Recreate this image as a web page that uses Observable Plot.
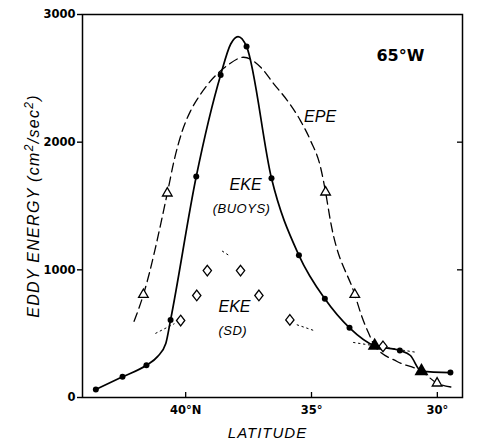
<!DOCTYPE html>
<html><head><meta charset="utf-8">
<script src="https://cdn.jsdelivr.net/npm/d3@7"></script>
<script src="https://cdn.jsdelivr.net/npm/@observablehq/plot@0.6"></script>
<style>body{margin:0;background:#fff}#chart{width:479px;height:442px}</style>
</head><body><div id="chart"></div>
<script>
// Axis ticks
const xTicks = [40, 35, 30];
const yTicks = [0, 1000, 2000, 3000];
const yRightTicks = [1000, 2000];

// EKE (buoys): measured points
const ekeLat = [43.57, 42.51, 41.56, 40.60, 39.58, 38.61, 37.58, 36.59, 35.50, 34.47, 33.49, 31.49, 29.48];
const ekeVal = [63, 162, 253, 608, 1731, 2527, 2749, 1717, 1114, 773, 546, 368, 195];
// EKE (buoys): hand-drawn curve
const ekeCurveLat = [43.57, 42.51, 41.56, 41.12, 40.79, 40.60, 39.58, 38.61, 38.21, 37.92, 37.58, 36.59, 35.50, 34.47, 33.49, 32.49, 31.49, 31.07, 30.63, 29.48];
const ekeCurveVal = [63, 162, 253, 320, 423, 608, 1731, 2527, 2769, 2827, 2749, 1717, 1114, 773, 546, 405, 368, 329, 204, 195];

// EPE: curve
const epeCurveLat = [42.05, 41.68, 40.73, 40.46, 40.13, 39.80, 39.40, 38.88, 38.35, 37.70, 37.02, 36.50, 35.96, 35.44, 35.04, 34.64, 34.44, 34.25, 33.28, 32.99, 32.72, 32.49, 31.60, 30.63, 30.01, 29.42];
const epeCurveVal = [597, 806, 1600, 1856, 2091, 2247, 2378, 2508, 2600, 2665, 2587, 2457, 2326, 2169, 2013, 1803, 1608, 1386, 806, 629, 499, 405, 282, 206, 112, 81];
// EPE points (open triangles)
const epeOpenLat = [41.68, 40.73, 34.44, 33.28, 30.01];
const epeOpenVal = [806, 1600, 1608, 806, 112];
// filled triangles
const epeFillLat = [32.49, 30.63];
const epeFillVal = [405, 206];

// EKE (SD) diamonds
const sdLat = [40.20, 39.56, 39.14, 37.82, 37.09, 35.86, 32.16];
const sdVal = [603, 799, 994, 994, 799, 608, 400];
// EKE (SD) dotted fragments
const sdSegId  = [1, 1, 2, 2, 3, 3, 4, 4];
const sdSegLat = [41.19, 40.46, 38.54, 38.21, 35.57, 34.91, 33.33, 30.87];
const sdSegVal = [503, 577, 1146, 1104, 569, 525, 431, 355];

// Annotations
const labelText = ["65°W", "EPE", "EKE", "(BUOYS)", "EKE", "(SD)"];
const labelLat  = [31.47, 34.66, 37.62, 37.78, 38.06, 38.13];
const labelVal  = [2678, 2200, 1668, 1480, 713, 525];
const labelKind = ["plain", "big", "big", "small", "big", "small"];

const yTitleParts = ["EDDY ENERGY (cm", "2", "/sec", "2", ")"];
const yTitleSup   = [false, true, false, true, false];
const xTitle = "LATITUDE";

const zip = (a, b) => a.map((x, i) => ({lat: x, val: b[i]}));
const ekePts = zip(ekeLat, ekeVal);
const ekeCurve = zip(ekeCurveLat, ekeCurveVal);
const epeCurve = zip(epeCurveLat, epeCurveVal);
const epeOpen = zip(epeOpenLat, epeOpenVal);
const epeFill = zip(epeFillLat, epeFillVal);
const sdPts = zip(sdLat, sdVal);
const sdSegs = sdSegLat.map((x, i) => ({lat: x, val: sdSegVal[i], seg: sdSegId[i]}));
const labels = labelText.map((t, i) => ({text: t, lat: labelLat[i], val: labelVal[i], kind: labelKind[i]}));

const tallDiamond = {
  draw(ctx, size) {
    const h = Math.sqrt(size) * 0.6, w = h * 0.78;
    ctx.moveTo(0, -h); ctx.lineTo(w, 0); ctx.lineTo(0, h); ctx.lineTo(-w, 0); ctx.closePath();
  }
};

const W = 479, H = 442, mL = 82, mR = 17, mT = 14, mB = 45;
const plotW = W - mL - mR, plotH = H - mT - mB;
const italicFont = "Liberation Sans";

const chart = Plot.plot({
  width: W, height: H,
  marginLeft: mL, marginRight: mR, marginTop: mT, marginBottom: mB,
  style: {fontFamily: "DejaVu Sans", fontSize: "11.5px", fontWeight: "bold", color: "black", background: "white"},
  x: {domain: [44.1, 29]},
  y: {domain: [0, 3000]},
  marks: [
    Plot.frame({stroke: "black", strokeWidth: 1.5}),
    Plot.axisY(yTicks, {tickSize: 5, tickPadding: 2, label: null, strokeWidth: 1.4, tickFormat: d => String(d)}),
    Plot.axisX(xTicks, {tickSize: 0, tickPadding: 8, label: null, tickFormat: d => d === 40 ? "40°N" : d + "°"}),
    Plot.ruleX(xTicks, {x: d => d, insetTop: plotH - 5, strokeWidth: 1.3}),
    Plot.ruleY(yRightTicks, {y: d => d, insetLeft: plotW - 5, strokeWidth: 1.3}),
    Plot.line(sdSegs, {x: "lat", y: "val", z: "seg", stroke: "black", strokeWidth: 1, strokeDasharray: "1.5,3.5"}),
    Plot.line(epeCurve, {x: "lat", y: "val", curve: "monotone-x", stroke: "black", strokeWidth: 1.3, strokeDasharray: "9,5"}),
    Plot.line(ekeCurve, {x: "lat", y: "val", curve: "monotone-x", stroke: "black", strokeWidth: 1.7}),
    Plot.dot(ekePts, {x: "lat", y: "val", r: 3, fill: "black"}),
    Plot.dot(sdPts, {x: "lat", y: "val", symbol: tallDiamond, r: 5, fill: "white", stroke: "black", strokeWidth: 1.3}),
    Plot.dot(epeOpen, {x: "lat", y: "val", symbol: "triangle2", r: 4.6, fill: "white", stroke: "black", strokeWidth: 1.3}),
    Plot.dot(epeFill, {x: "lat", y: "val", symbol: "triangle", r: 5.2, fill: "black"}),
    Plot.text(labels.filter(d => d.kind === "plain"), {x: "lat", y: "val", text: "text", fill: "black", fontSize: 16, fontWeight: "bold", fontFamily: "DejaVu Sans", textAnchor: "middle", lineAnchor: "middle"}),
    Plot.text(labels.filter(d => d.kind === "big"), {x: "lat", y: "val", text: "text", fill: "black", fontSize: 16, fontWeight: "normal", fontStyle: "italic", fontFamily: italicFont, textAnchor: "middle", lineAnchor: "middle"}),
    Plot.text(labels.filter(d => d.kind === "small"), {x: "lat", y: "val", text: "text", fill: "black", fontSize: 13, fontWeight: "normal", fontStyle: "italic", fontFamily: italicFont, textAnchor: "middle", lineAnchor: "middle", className: "paren"}),
    Plot.text([yTitleParts.join("")], {text: d => d, frameAnchor: "left", dx: -49, rotate: -90, fill: "black", fontSize: 16, fontWeight: "normal", fontStyle: "italic", fontFamily: italicFont, textAnchor: "middle", lineAnchor: "middle", className: "ytitle"}),
    Plot.text([xTitle], {text: d => d, frameAnchor: "bottom", dx: -5, dy: 36, fill: "black", fontSize: 15, fontWeight: "normal", fontStyle: "italic", fontFamily: italicFont, textAnchor: "middle", lineAnchor: "middle", className: "xtitle"})
  ]
});
document.getElementById("chart").appendChild(chart);
const svg = d3.select(chart);
// rebuild the y title with real superscripts
const yt = svg.select(".ytitle text");
yt.text(null).attr("letter-spacing", "1.3");
let shifted = false;
yTitleParts.forEach((p, i) => {
  const ts = yt.append("tspan").text(p);
  if (yTitleSup[i]) { ts.attr("font-size", "12px").attr("dy", "-6"); shifted = true; }
  else if (shifted) { ts.attr("dy", "6"); shifted = false; }
});
svg.selectAll(".xtitle text").attr("letter-spacing", "1");
svg.selectAll(".paren text").attr("letter-spacing", "0.5");
</script>
</body></html>
